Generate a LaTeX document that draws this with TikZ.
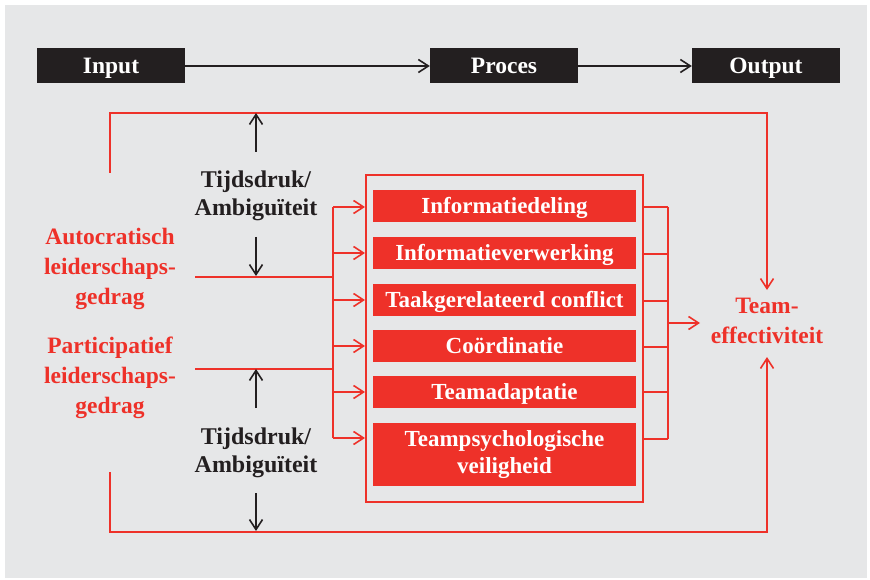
\documentclass[tikz,border=0pt]{standalone}
\usepackage{fontspec}
\setmainfont{Liberation Serif}
\usetikzlibrary{arrows.meta}
\definecolor{bgg}{HTML}{E6E7E8}
\definecolor{rd}{HTML}{EE3129}
\definecolor{blk}{HTML}{231F20}
\begin{document}
\begin{tikzpicture}[x=1pt,y=-1pt,
  tip/.style={-{Straight Barb[length=10pt,width=13pt,line width=1.6pt]}},
  blackbox/.style={fill=blk,text=white,font=\bfseries\fontsize{23.5}{24}\selectfont,minimum width=148pt,minimum height=35pt,inner sep=0pt,text height=19.7pt,text depth=4.2pt},
  redbox/.style={fill=rd,text=white,font=\bfseries\fontsize{23}{27}\selectfont,minimum width=263pt,inner sep=0pt,align=center},
  oneline/.style={minimum height=32pt,text height=18.6pt,text depth=4.1pt},
  redtxt/.style={text=rd,font=\bfseries\fontsize{23.5}{30}\selectfont,align=center,inner sep=0pt},
  blktxt/.style={text=blk,font=\bfseries\fontsize{24}{28}\selectfont,align=center,inner sep=0pt},
  rline/.style={draw=rd,line width=2pt},
  bline/.style={draw=blk,line width=2pt}]
\useasboundingbox (0,0) rectangle (870,580);
\fill[white] (0,0) rectangle (870,580);
\fill[bgg] (5,5) rectangle (867,578);

\node[blackbox] (in) at (111,66) {Input};
\node[blackbox] (pr) at (504,66) {Proces};
\node[blackbox] (out) at (766,66) {Output};
\draw[bline,tip] (in.east) -- (pr.west);
\draw[bline,tip] (pr.east) -- (out.west);

\node[draw=rd,line width=2pt,minimum width=277pt,minimum height=327pt,inner sep=0pt] (proc) at (504.5,338.5) {};
\node[redbox,oneline] (b1) at (504.5,206) {Informatiedeling};
\node[redbox,oneline] (b2) at (504.5,253) {Informatieverwerking};
\node[redbox,oneline] (b3) at (504.5,300) {Taakgerelateerd conflict};
\node[redbox,oneline] (b4) at (504.5,346) {Coördinatie};
\node[redbox,oneline] (b5) at (504.5,392) {Teamadaptatie};
\node[redbox,minimum height=63pt] (b6) at (504.5,454.5) {Teampsychologische\\veiligheid};

\node[redtxt] (auto) at (110,269) {Autocratisch\\leiderschaps-\\gedrag};
\node[redtxt] (part) at (110,377.5) {Participatief\\leiderschaps-\\gedrag};
\node[blktxt] (t1) at (256,196) {Tijdsdruk/\\Ambiguïteit};
\node[blktxt] (t2) at (256,453) {Tijdsdruk/\\Ambiguïteit};
\node[text=rd,font=\bfseries\fontsize{23.5}{30}\selectfont,align=center,inner sep=0pt] (team) at (767,321) {Team-\\effectiviteit};

% left bus
\coordinate (la) at (195,277);
\coordinate (lp) at (195,369);
\coordinate (bt) at (333,207);
\coordinate (bb) at (333,438);
\draw[rline] (la) -- (la -| bt);
\draw[rline] (lp) -- (lp -| bt);
\draw[rline] (bt) -- (bb);
\foreach \y in {207,253,300,346,392,438}{
  \draw[rline,tip] (333,\y) -- (proc.west |- 0,\y);
}
% right bus
\coordinate (rt) at (668,207);
\coordinate (rb) at (668,439);
\foreach \y in {207,254,301,347,392,439}{
  \draw[rline] (proc.east |- 0,\y) -- (668,\y);
}
\draw[rline] (rt) -- (rb);
\coordinate (rm) at (668,323);
\coordinate (rme) at (700,323);
\draw[rline,tip] (rm) -- (rme);

% loops
\coordinate (tl) at (110,173);
\coordinate (bl) at (110,472);
\coordinate (tt) at (767,290);
\coordinate (tb) at (767,357);
\draw[rline,tip] (tl) -- (110,113) -- (767,113) -- (tt);
\draw[rline,tip] (bl) -- (110,532) -- (767,532) -- (tb);

% black arrows
\coordinate (a1) at (256,152); \coordinate (a1e) at (256,113);
\coordinate (a2) at (256,237); \coordinate (a2e) at (256,276);
\coordinate (a3) at (256,408); \coordinate (a3e) at (256,369);
\coordinate (a4) at (256,493); \coordinate (a4e) at (256,531);
\draw[bline,tip] (a1) -- (a1e);
\draw[bline,tip] (a2) -- (a2e);
\draw[bline,tip] (a3) -- (a3e);
\draw[bline,tip] (a4) -- (a4e);
\end{tikzpicture}
\end{document}
